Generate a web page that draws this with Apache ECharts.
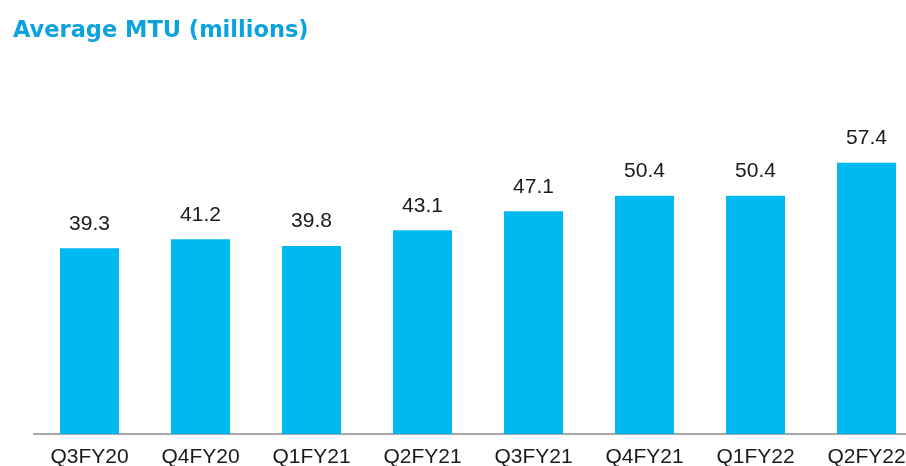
<!DOCTYPE html>
<html>
<head>
<meta charset="utf-8">
<script src="https://cdn.jsdelivr.net/npm/echarts@6/dist/echarts.min.js"></script>
<style>
  html, body { margin: 0; padding: 0; background: #ffffff; }
  #chart { width: 906px; height: 466px; }
</style>
</head>
<body>
<div id="chart"></div>
<script>
// Quarterly average monthly transacting users, in millions
const quarters = ['Q3FY20', 'Q4FY20', 'Q1FY21', 'Q2FY21', 'Q3FY21', 'Q4FY21', 'Q1FY22', 'Q2FY22'];
const avgMtu = [39.3, 41.2, 39.8, 43.1, 47.1, 50.4, 50.4, 57.4];

const chart = echarts.init(document.getElementById('chart'), null, { renderer: 'canvas' });

chart.setOption({
  animation: false,
  backgroundColor: '#ffffff',
  title: {
    text: 'Average MTU (millions)',
    left: 8,
    top: 15,
    textStyle: {
      fontFamily: 'DejaVu Sans',
      fontWeight: 'bold',
      fontSize: 22.5,
      color: '#0BA2DE'
    }
  },
  // the plot runs a little past the right edge, so the last bar sits near it
  grid: {
    left: 34,
    right: -16,
    top: 150.4,
    bottom: 32,
    containLabel: false,
    outerBoundsMode: 'none'
  },
  xAxis: {
    type: 'category',
    data: quarters,
    axisLine: { show: true, lineStyle: { color: '#A5A9A9', width: 2 } },
    axisTick: { show: false },
    axisLabel: {
      margin: 13,
      fontFamily: 'Liberation Sans',
      fontSize: 21,
      color: '#1a1a1a'
    }
  },
  yAxis: {
    type: 'value',
    min: 0,
    max: 60,
    show: false,
    splitLine: { show: false }
  },
  series: [{
    type: 'bar',
    data: avgMtu,
    barWidth: 59,
    itemStyle: { color: '#00B9F1' },
    label: {
      show: true,
      position: 'top',
      distance: 14,
      fontFamily: 'Liberation Sans',
      fontSize: 21,
      color: '#1a1a1a',
      formatter: p => p.value.toFixed(1)
    }
  }]
});
</script>
</body>
</html>
